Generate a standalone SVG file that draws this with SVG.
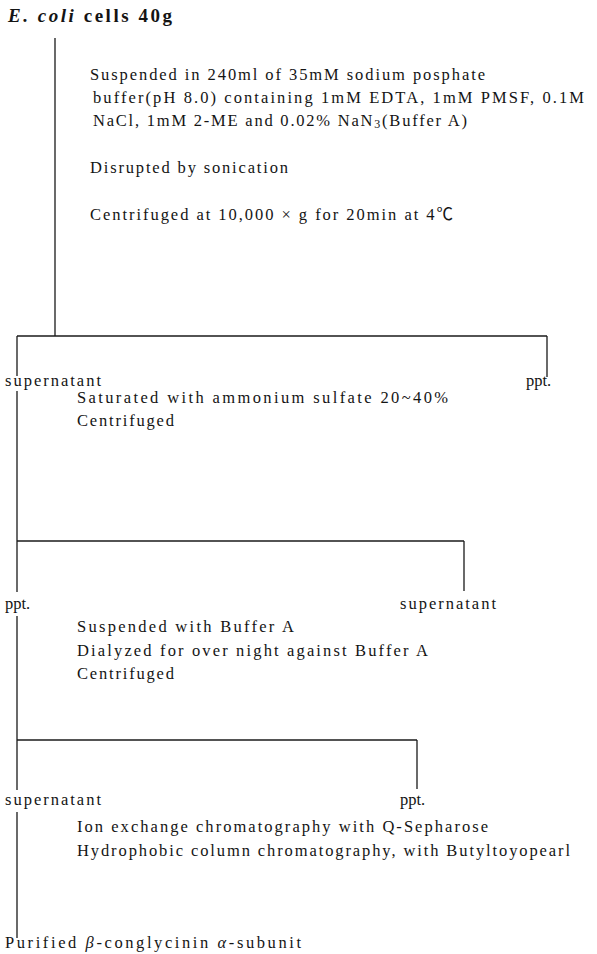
<svg xmlns="http://www.w3.org/2000/svg" width="597" height="954" viewBox="0 0 597 954">
<style>
  text { font-family: "Liberation Serif", "Noto Sans CJK KR", serif; font-size: 16.5px; fill: #141414; }
  .title { font-size: 19px; font-weight: bold; }
  .lbl { font-size: 16.5px; }
  .it { font-style: italic; }
  .conn line { stroke: #1a1a1a; stroke-width: 1.3; fill: none; }
</style>
<rect width="597" height="954" fill="#ffffff"/>

<g id="connectors" class="conn">
  <line x1="55" y1="38" x2="55" y2="336"/>
  <line x1="17" y1="336" x2="547" y2="336"/>
  <line x1="17" y1="336" x2="17" y2="376"/>
  <line x1="547" y1="336" x2="547" y2="377"/>
  <line x1="17" y1="391" x2="17" y2="541"/>
  <line x1="17" y1="541" x2="464" y2="541"/>
  <line x1="17" y1="541" x2="17" y2="592"/>
  <line x1="464" y1="541" x2="464" y2="591"/>
  <line x1="17" y1="616" x2="17" y2="740"/>
  <line x1="17" y1="740" x2="417" y2="740"/>
  <line x1="17" y1="740" x2="17" y2="790"/>
  <line x1="417" y1="740" x2="417" y2="789"/>
  <line x1="17" y1="812" x2="17" y2="938"/>
</g>

<g id="start">
  <text class="title" x="8" y="22" textLength="164" lengthAdjust="spacing"><tspan class="it">E. coli</tspan> cells 40g</text>
</g>

<g id="step1">
  <text x="90" y="80" textLength="395" lengthAdjust="spacing">Suspended in 240ml of 35mM sodium posphate</text>
  <text x="93" y="103" textLength="491" lengthAdjust="spacing">buffer(pH 8.0) containing 1mM EDTA, 1mM PMSF, 0.1M</text>
  <text x="93" y="126" textLength="374" lengthAdjust="spacing">NaCl, 1mM 2-ME and 0.02% NaN<tspan font-size="12" dy="2">3</tspan><tspan dy="-2">(Buffer A)</tspan></text>
  <text x="90" y="173" textLength="198" lengthAdjust="spacing">Disrupted by sonication</text>
  <text x="90" y="220" textLength="363" lengthAdjust="spacing">Centrifuged at 10,000 × g for 20min at 4℃</text>
</g>

<g id="sup1">
  <text class="lbl" x="5" y="386" textLength="96" lengthAdjust="spacing">supernatant</text>
</g>
<g id="ppt1">
  <text class="lbl" x="526" y="386">ppt.</text>
</g>

<g id="step2">
  <text x="77" y="403" textLength="371" lengthAdjust="spacing">Saturated with ammonium sulfate 20~40%</text>
  <text x="77" y="426" textLength="97" lengthAdjust="spacing">Centrifuged</text>
</g>

<g id="ppt2">
  <text class="lbl" x="5" y="609">ppt.</text>
</g>
<g id="sup2">
  <text class="lbl" x="400" y="609" textLength="96" lengthAdjust="spacing">supernatant</text>
</g>

<g id="step3">
  <text x="77" y="632" textLength="217" lengthAdjust="spacing">Suspended with Buffer A</text>
  <text x="77" y="656" textLength="351" lengthAdjust="spacing">Dialyzed for over night against Buffer A</text>
  <text x="77" y="679" textLength="97" lengthAdjust="spacing">Centrifuged</text>
</g>

<g id="sup3">
  <text class="lbl" x="5" y="805" textLength="96" lengthAdjust="spacing">supernatant</text>
</g>
<g id="ppt3">
  <text class="lbl" x="400" y="805">ppt.</text>
</g>

<g id="step4">
  <text x="77" y="832" textLength="411" lengthAdjust="spacing">Ion exchange chromatography with Q-Sepharose</text>
  <text x="77" y="856" textLength="493" lengthAdjust="spacing">Hydrophobic column chromatography, with Butyltoyopearl</text>
</g>

<g id="result">
  <text x="5" y="948" textLength="296" lengthAdjust="spacing">Purified <tspan class="it">β</tspan>-conglycinin <tspan class="it">α</tspan>-subunit</text>
</g>
</svg>
